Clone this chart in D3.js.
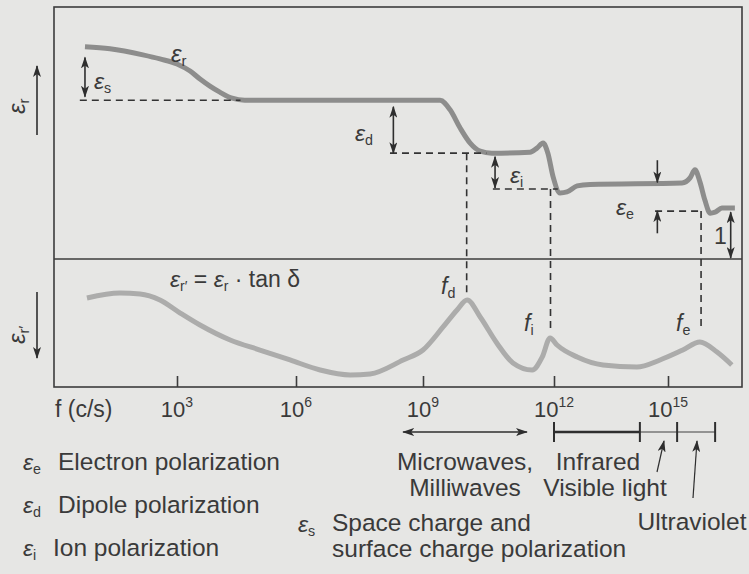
<!DOCTYPE html>
<html>
<head>
<meta charset="utf-8">
<script src="https://cdn.jsdelivr.net/npm/d3@7/dist/d3.min.js"></script>
<style>
  html, body { margin: 0; padding: 0; background: #e6e6e4; }
  svg { display: block; font-family: "Liberation Sans", Arial, sans-serif; }
</style>
</head>
<body>
<svg id="chart" width="749" height="574"></svg>
<script>
// Relative permittivity εr versus log10 of frequency (upper panel)
const permLogF = [0.68, 1.31, 2.14, 2.57, 3.00, 3.33, 3.58, 3.83, 4.08, 4.39, 4.71, 6.09, 9.39, 9.62, 9.85, 10.08, 10.31, 10.58, 11.45, 11.61, 11.75, 11.86, 11.98, 12.16, 12.34, 12.61, 12.95, 15.37, 15.58, 15.71, 15.84, 15.97, 16.11, 16.24, 16.42, 16.76];
const permValue = [4.21, 4.17, 4.05, 3.97, 3.87, 3.73, 3.57, 3.43, 3.31, 3.19, 3.15, 3.15, 3.15, 2.96, 2.60, 2.30, 2.14, 2.10, 2.12, 2.20, 2.30, 2.10, 1.63, 1.31, 1.33, 1.45, 1.48, 1.51, 1.61, 1.77, 1.53, 1.17, 0.91, 0.93, 1.01, 1.01];

// Loss factor εr'' = εr · tan δ versus log10 of frequency (lower panel)
const lossLogF = [0.73, 1.56, 2.07, 2.57, 3.08, 3.58, 4.34, 5.09, 5.85, 6.57, 7.28, 7.75, 8.53, 9.00, 9.46, 9.78, 10.01, 10.31, 10.69, 11.06, 11.50, 11.73, 11.91, 12.08, 12.61, 13.29, 14.18, 14.79, 15.39, 15.84, 16.29, 16.68];
const lossValue = [6.95, 7.34, 7.27, 6.80, 5.78, 4.84, 3.67, 2.89, 2.11, 1.33, 0.94, 1.02, 2.11, 2.89, 4.69, 6.02, 6.80, 5.47, 3.44, 1.88, 1.33, 2.34, 3.83, 3.28, 2.34, 1.72, 1.56, 2.11, 2.89, 3.52, 2.73, 1.72];

// Frequency decades marked on the axis
const tickExponents = [3, 6, 9, 12, 15];
const tickPositions = [177, 296, 423, 554, 668];

// Permittivity step levels and relaxation frequencies
const levelStatic = 3.15;     // after space-charge step
const levelDipole = 2.10;     // after dipole step
const levelIon = 1.39;        // after ionic step
const levelElectron = 0.95;   // after electronic step
const freqDipole = 10.0;
const freqIon = 11.92;
const freqElectron = 15.87;
const lossAtDipole = 7.0, lossAtIon = 4.2, lossAtElectron = 4.45;

// Spectral bands (log10 f)
const microwaveBand = [8.53, 11.38];
const bandEdges = [12.0, 14.26, 15.24, 16.24];   // infrared | visible | ultraviolet

// Legend entries
const legendSubs = ["e", "d", "i"];
const legendTexts = ["Electron polarization", "Dipole polarization", "Ion polarization"];

const svg = d3.select("#chart");
const ink = "#3a3a3a";
const FS = 24.5;
const SYM = 23;

const x = d3.scaleLinear().domain(tickExponents).range(tickPositions);
const yTop = d3.scaleLinear().domain([0, 5]).range([259, 7]);
const yBot = d3.scaleLinear().domain([0, 10]).range([387, 259]);

// arrowheads
const defs = svg.append("defs");
function marker(id, color) {
  defs.append("marker").attr("id", id)
    .attr("viewBox", "0 0 12 8").attr("refX", 11).attr("refY", 4)
    .attr("markerWidth", 12).attr("markerHeight", 8)
    .attr("markerUnits", "userSpaceOnUse").attr("orient", "auto-start-reverse")
    .append("path").attr("d", "M0,0 L12,4 L0,8 L3,4 Z").attr("fill", color);
}
marker("ah", "#2e2e2e");

// curves
const lineTop = d3.line().x(d => x(d[0])).y(d => yTop(d[1])).curve(d3.curveMonotoneX);
const lineBot = d3.line().x(d => x(d[0])).y(d => yBot(d[1])).curve(d3.curveMonotoneX);

svg.append("path").datum(d3.zip(lossLogF, lossValue))
  .attr("d", lineBot).attr("fill", "none")
  .attr("stroke", "#acacab").attr("stroke-width", 5).attr("stroke-linejoin", "round");

svg.append("path").datum(d3.zip(permLogF, permValue))
  .attr("d", lineTop).attr("fill", "none")
  .attr("stroke", "#8d8d8c").attr("stroke-width", 5).attr("stroke-linejoin", "round");

// frame and panel divider
svg.append("rect").attr("x", 54).attr("y", yTop(5))
  .attr("width", 688).attr("height", yBot(0) - yTop(5))
  .attr("fill", "none").attr("stroke", "#3c3c3c").attr("stroke-width", 1.6);
svg.append("line").attr("x1", 54).attr("x2", 742).attr("y1", yTop(0)).attr("y2", yTop(0))
  .attr("stroke", "#3c3c3c").attr("stroke-width", 1.6);

// bottom axis ticks pointing inward
const axis = d3.axisBottom(x).tickValues(tickExponents).tickSizeInner(-11).tickSizeOuter(0).tickFormat("");
const gAxis = svg.append("g").attr("transform", `translate(0,${yBot(0)})`).call(axis);
gAxis.select(".domain").remove();
gAxis.selectAll(".tick line").attr("stroke", "#3c3c3c").attr("stroke-width", 1.6);

// tick labels 10^n
tickExponents.forEach(e => {
  const t = svg.append("text").attr("x", x(e)).attr("y", 417)
    .attr("text-anchor", "middle").attr("fill", ink).attr("font-size", 22);
  t.append("tspan").text("10");
  t.append("tspan").attr("font-size", 14).attr("dy", -10).text(e);
});
svg.append("text").attr("x", 55).attr("y", 417).attr("fill", ink)
  .attr("font-size", 23).text("f (c/s)");

// dashed guides
const dash = (x1, y1, x2, y2) => svg.append("line")
  .attr("x1", x1).attr("y1", y1).attr("x2", x2).attr("y2", y2)
  .attr("stroke", "#333").attr("stroke-width", 1.6).attr("stroke-dasharray", "7,5");

dash(x(0.55), yTop(levelStatic), x(4.6), yTop(levelStatic));
dash(x(8.22), yTop(levelDipole), x(10.45), yTop(levelDipole));
dash(x(freqDipole), yTop(levelDipole), x(freqDipole), yBot(lossAtDipole) - 3);
dash(x(10.6), yTop(levelIon), x(12.1), yTop(levelIon));
dash(x(freqIon), yTop(levelIon), x(freqIon), yBot(lossAtIon) - 3);
dash(x(14.66), yTop(levelElectron), x(freqElectron), yTop(levelElectron));
dash(x(freqElectron), yTop(levelElectron), x(freqElectron), yBot(lossAtElectron) - 3);

// arrows
function arrow(x1, y1, x2, y2, both, w, color) {
  const l = svg.append("line").attr("x1", x1).attr("y1", y1).attr("x2", x2).attr("y2", y2)
    .attr("stroke", color || "#2e2e2e").attr("stroke-width", w || 1.6)
    .attr("marker-end", "url(#ah)");
  if (both) l.attr("marker-start", "url(#ah)");
  return l;
}
arrow(x(0.68), yTop(4.0), x(0.68), yTop(3.22), true);
arrow(x(8.3), yTop(3.02), x(8.3), yTop(2.1), true);
arrow(x(10.65), yTop(2.03), x(10.65), yTop(1.41), true);
arrow(x(14.72), yTop(1.96), x(14.72), yTop(1.52), false);
arrow(x(14.72), yTop(0.51), x(14.72), yTop(0.95), false);
arrow(x(16.65), yTop(0.93), x(16.65), yTop(0.02), true);

// axis direction arrows
arrow(37, 135, 37, 66, false);
arrow(37, 292, 37, 358, false);

// text helpers
function symbol(px, py, main, sub, size, opts) {
  opts = opts || {};
  const t = svg.append("text").attr("x", px).attr("y", py).attr("fill", ink)
    .attr("font-size", size);
  if (opts.rotate) t.attr("transform", `rotate(-90,${px},${py})`);
  t.append("tspan").attr("font-style", "italic").text(main);
  t.append("tspan").attr("font-size", size * 0.62).attr("dy", size * 0.18).text(sub);
  return t;
}

symbol(171, 62, "ε", "r", 24);
symbol(94, 89, "ε", "s", SYM);
symbol(355, 141, "ε", "d", SYM);
symbol(510, 183, "ε", "i", SYM);
symbol(616, 215, "ε", "e", SYM);
svg.append("text").attr("x", 714).attr("y", 244).attr("fill", ink).attr("font-size", 23).text("1");

symbol(25, 114, "ε", "r", 24, { rotate: true });
symbol(25, 344, "ε", "r′", 24, { rotate: true });

// loss formula
{
  const t = svg.append("text").attr("x", 170).attr("y", 287).attr("fill", ink).attr("font-size", 23);
  t.append("tspan").attr("font-style", "italic").text("ε");
  t.append("tspan").attr("font-size", 14).attr("dy", 4).text("r′");
  t.append("tspan").attr("dy", -4).text(" = ");
  t.append("tspan").attr("font-style", "italic").text("ε");
  t.append("tspan").attr("font-size", 14).attr("dy", 4).text("r");
  t.append("tspan").attr("dy", -4).text(" · tan δ");
}

symbol(441, 294, "f", "d", SYM);
symbol(524, 331, "f", "i", SYM);
symbol(676, 331, "f", "e", SYM);

// spectral band indicators
const bandY = 432;
arrow(x(microwaveBand[0]), bandY, x(microwaveBand[1]), bandY, true, 1.4);
svg.append("line").attr("x1", x(bandEdges[0])).attr("x2", x(bandEdges[1]))
  .attr("y1", bandY).attr("y2", bandY).attr("stroke", "#2e2e2e").attr("stroke-width", 2.4);
svg.append("line").attr("x1", x(bandEdges[1])).attr("x2", x(bandEdges[3]))
  .attr("y1", bandY).attr("y2", bandY).attr("stroke", "#777").attr("stroke-width", 1.4);
bandEdges.forEach(e => svg.append("line").attr("x1", x(e)).attr("x2", x(e))
  .attr("y1", bandY - 10).attr("y2", bandY + 10).attr("stroke", "#2e2e2e").attr("stroke-width", 2));

const label = (px, py, s, anchor) => svg.append("text").attr("x", px).attr("y", py)
  .attr("fill", ink).attr("font-size", FS).attr("text-anchor", anchor || "start").text(s);

label(465, 470, "Microwaves,", "middle");
label(465, 496, "Milliwaves", "middle");
label(598, 470, "Infrared", "middle");
label(605, 496, "Visible light", "middle");
label(692, 530, "Ultraviolet", "middle");
arrow(657, 472, 664, 441, false, 1.2);
arrow(693, 498, 697, 441, false, 1.2);

// legend
legendSubs.forEach((s, i) => {
  symbol(23, 470 + i * 43, "ε", s, SYM);
  label(i === 2 ? 53 : 58, 470 + i * 43, legendTexts[i]);
});
symbol(298, 532, "ε", "s", SYM);
label(332, 531, "Space charge and");
label(332, 557, "surface charge polarization");
</script>
</body>
</html>
